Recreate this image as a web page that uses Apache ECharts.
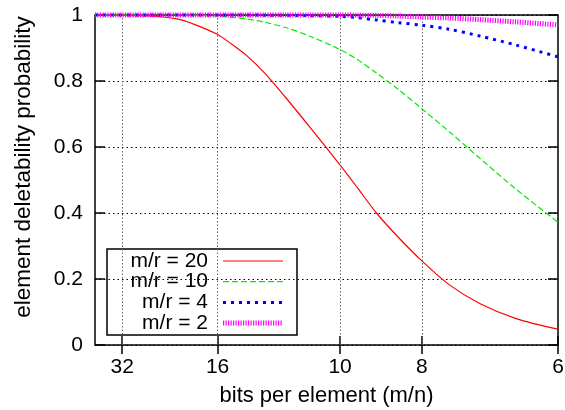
<!DOCTYPE html>
<html><head><meta charset="utf-8">
<script src="https://cdn.jsdelivr.net/npm/echarts@6/dist/echarts.min.js"></script>
<style>html,body{margin:0;padding:0;background:#fff}#c{width:565px;height:410px}</style>
</head><body><div id="c"></div>
<script>
// ---- data ----
const bitsPerElement = [40, 32, 24, 20, 18, 16, 15, 14, 13, 12, 11, 10, 9.5, 9, 8.5, 8, 7.5, 7, 6.5, 6];
const seriesNames = ['m/r = 20', 'm/r = 10', 'm/r = 4', 'm/r = 2'];
const probMr20 = [1.0, 0.9995, 0.997, 0.988, 0.971, 0.941, 0.913, 0.877, 0.824, 0.750, 0.658, 0.545, 0.477, 0.400, 0.328, 0.255, 0.183, 0.125, 0.080, 0.048];
const probMr10 = [1.0, 1.0, 1.0, 1.0, 0.999, 0.997, 0.993, 0.988, 0.978, 0.962, 0.935, 0.895, 0.865, 0.824, 0.776, 0.716, 0.647, 0.565, 0.472, 0.372];
const probMr4  = [1.0, 1.0, 1.0, 1.0, 1.0, 1.0, 1.0, 1.0, 0.9995, 0.999, 0.998, 0.996, 0.992, 0.985, 0.977, 0.969, 0.957, 0.936, 0.909, 0.873];
const probMr2  = [1.0, 1.0, 1.0, 1.0, 1.0, 1.0, 1.0, 1.0, 1.0, 1.0, 1.0, 1.0, 0.9995, 0.999, 0.997, 0.994, 0.991, 0.986, 0.979, 0.970];
const xTickBits = [30, 16, 10, 8, 6];
const xTickLabels = ['32', '16', '10', '8', '6'];
const xRangeBits = [40, 6];

// ---- styling ----
const FONT = "'Liberation Sans', Arial, Helvetica, sans-serif";
const styles = [
  { color: '#ff0000', width: 1.2, type: 'solid' },
  { color: '#00ee00', width: 1.2, type: [6, 3] },
  { color: '#0000ff', width: 3, type: [3, 5] },
  { color: '#ff00ff', width: 5, type: [1.2, 1.3] }
];
const probs = [probMr20, probMr10, probMr4, probMr2];
const toU = b => 1 / b;  // axis coordinate: elements per bit (n/m)
const xTickPos = xTickBits.map(toU);

const series = probs.map((arr, i) => ({
  name: seriesNames[i],
  type: 'line',
  data: bitsPerElement.map((b, j) => [toU(b), arr[j]]),
  showSymbol: false,
  smooth: 0.3,
  clip: false,
  lineStyle: { color: styles[i].color, width: styles[i].width, type: styles[i].type, cap: 'butt' },
  z: 3 + i,
  animation: false
}));
// vertical dotted grid lines at x ticks
series[0].markLine = {
  silent: true, symbol: ['none', 'none'], label: { show: false }, animation: false, precision: 10,
  lineStyle: { color: '#666', width: 1, type: [1.5, 2] },
  data: xTickPos.slice(0, xTickPos.length - 1).map(v => ({ xAxis: v }))
};

const fmtX = v => {
  const i = xTickPos.findIndex(p => Math.abs(p - v) < 1e-9);
  return i >= 0 ? xTickLabels[i] : '';
};

const tickStyle = { color: '#000', width: 1.5 };
const legendChildren = [{
  type: 'rect', shape: { x: 0, y: 0, width: 190, height: 86 },
  style: { fill: '#fff', stroke: '#000', lineWidth: 1.5 }
}];
seriesNames.forEach((n, i) => {
  const cy = 12 + i * 20.7;
  legendChildren.push({
    type: 'text', x: 101, y: cy,
    style: { text: n, align: 'right', verticalAlign: 'middle', font: '21px ' + FONT, fill: '#000' }
  });
  legendChildren.push({
    type: 'line', shape: { x1: 116, y1: cy, x2: 176, y2: cy },
    style: { stroke: styles[i].color, lineWidth: styles[i].width, lineDash: Array.isArray(styles[i].type) ? styles[i].type : null, lineCap: 'butt' }
  });
});

const option = {
  backgroundColor: '#fff',
  animation: false,
  textStyle: { fontFamily: FONT, color: '#000' },
  grid: { left: 95, right: 7, top: 15, bottom: 65, containLabel: false, outerBoundsMode: 'none',
          show: true, borderColor: '#000', borderWidth: 1.5, backgroundColor: 'transparent' },
  xAxis: [{
    type: 'value', position: 'bottom', min: toU(xRangeBits[0]), max: toU(xRangeBits[1]),
    axisLine: { show: false },
    axisTick: { show: true, inside: true, length: 9, customValues: xTickPos, lineStyle: tickStyle },
    axisLabel: { customValues: xTickPos, formatter: fmtX, fontSize: 21, color: '#000', margin: 12, fontFamily: FONT, showMinLabel: true, showMaxLabel: true },
    splitLine: { show: false },
    name: 'bits per element (m/n)', nameLocation: 'middle', nameGap: 40,
    nameTextStyle: { fontSize: 22, color: '#000', fontFamily: FONT }
  }, {
    type: 'value', position: 'top', min: toU(xRangeBits[0]), max: toU(xRangeBits[1]),
    axisLine: { show: false },
    axisTick: { show: true, inside: true, length: 9, customValues: xTickPos, lineStyle: tickStyle },
    axisLabel: { show: false },
    splitLine: { show: false }
  }],
  yAxis: [{
    type: 'value', min: 0, max: 1, interval: 0.2,
    axisLine: { show: false },
    axisTick: { show: true, inside: true, length: 10, lineStyle: tickStyle },
    axisLabel: { fontSize: 21, color: '#000', margin: 12, fontFamily: FONT },
    splitLine: { show: true, lineStyle: { color: '#000', width: 1, type: [1.5, 3] } }
  }, {
    type: 'value', position: 'right', min: 0, max: 1, interval: 0.2,
    axisLine: { show: false },
    axisTick: { show: true, inside: true, length: 10, lineStyle: tickStyle },
    axisLabel: { show: false },
    splitLine: { show: false }
  }],
  series: series,
  graphic: [
    { type: 'text', x: 24, y: 167, rotation: Math.PI / 2, z: 100,
      style: { text: 'element deletability probability', align: 'center', verticalAlign: 'middle', font: '22.5px ' + FONT, fill: '#000' } },
    { type: 'group', x: 107, y: 249, z: 100, children: legendChildren }
  ]
};
const chart = echarts.init(document.getElementById('c'), null, { renderer: 'canvas' });
chart.setOption(option);
</script></body></html>
